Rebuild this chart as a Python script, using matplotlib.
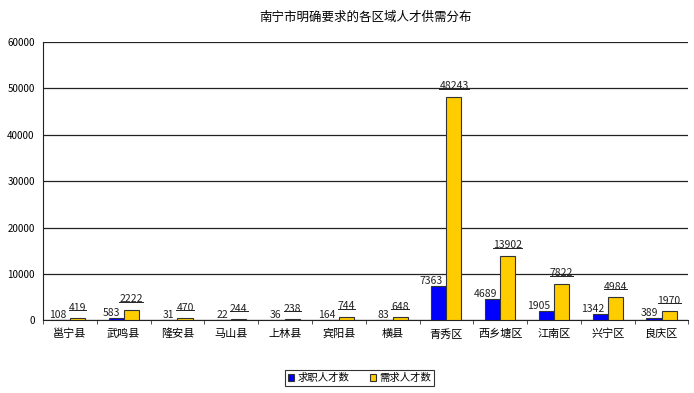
import matplotlib
matplotlib.use("Agg")
import matplotlib.pyplot as plt
from matplotlib.lines import Line2D
import numpy as np

plt.rcParams['font.family'] = ['Noto Sans CJK SC', 'DejaVu Sans']

regions = ["邕宁县", "武鸣县", "隆安县", "马山县", "上林县", "宾阳县", "横县",
           "青秀区", "西乡塘区", "江南区", "兴宁区", "良庆区"]
seekers = [108, 583, 31, 22, 36, 164, 83, 7363, 4689, 1905, 1342, 389]
demand = [419, 2222, 470, 244, 238, 744, 648, 48243, 13902, 7822, 4984, 1970]

fig = plt.figure(figsize=(6.94, 3.93), dpi=100)
ax = fig.add_axes([0.062, 0.185, 0.930, 0.708])

x = np.arange(len(regions))
w = 0.28
b1 = ax.bar(x - w / 2, seekers, w, color='#0000FF', edgecolor='#333333', linewidth=0.8,
            label='求职人才数', zorder=3)
b2 = ax.bar(x + w / 2, demand, w, color='#FFCC00', edgecolor='#333333', linewidth=0.8,
            label='需求人才数', zorder=3)

for r, v in zip(b1, seekers):
    ax.annotate(str(v), (r.get_x() + r.get_width() / 2, v), xytext=(3, 0),
                textcoords='offset points', ha='right', va='bottom', fontsize=7.5,
                color='#222222')
under = []
for r, v in zip(b2, demand):
    t = ax.annotate(str(v), (r.get_x() + r.get_width() / 2, v), xytext=(0, 4),
                    textcoords='offset points', ha='center', va='bottom', fontsize=7.5,
                    color='#222222')
    under.append(t)

ax.set_xlim(-0.5, len(regions) - 0.5)
ax.set_ylim(0, 60000)
ax.set_yticks(np.arange(0, 60001, 10000))
ax.yaxis.grid(True, color='#222222', linewidth=0.9, zorder=0)
ax.set_xticks(x)
ax.set_xticklabels(regions, fontsize=8)
ax.set_xticks(np.arange(-0.5, len(regions), 1), minor=True)
ax.tick_params(axis='x', which='major', length=0, pad=6)
ax.tick_params(axis='x', which='minor', length=3, direction='out', color='#333333')
ax.tick_params(axis='y', labelsize=7, length=0, pad=6)
for s in ['top', 'right']:
    ax.spines[s].set_visible(False)
ax.spines['left'].set_color('#222222')
ax.spines['bottom'].set_color('#222222')

ax.set_title('南宁市明确要求的各区域人才供需分布', fontsize=9, pad=15)

leg = fig.legend(handles=[b1, b2], loc='center', bbox_to_anchor=(0.518, 0.038), ncol=2,
                 fontsize=7.5, frameon=True, fancybox=False, edgecolor='black',
                 handlelength=0.6, handleheight=0.6, handletextpad=0.3,
                 columnspacing=2.0, borderpad=0.3)
leg.get_frame().set_linewidth(0.8)

# underline the demand labels
fig.canvas.draw()
inv = fig.transFigure.inverted()
for t in under:
    bb = t.get_window_extent().transformed(inv)
    fig.add_artist(Line2D([bb.x0, bb.x1], [bb.y0 + 0.006, bb.y0 + 0.006],
                          color='#222222', linewidth=0.7))

fig.savefig('out.png', dpi=100)
